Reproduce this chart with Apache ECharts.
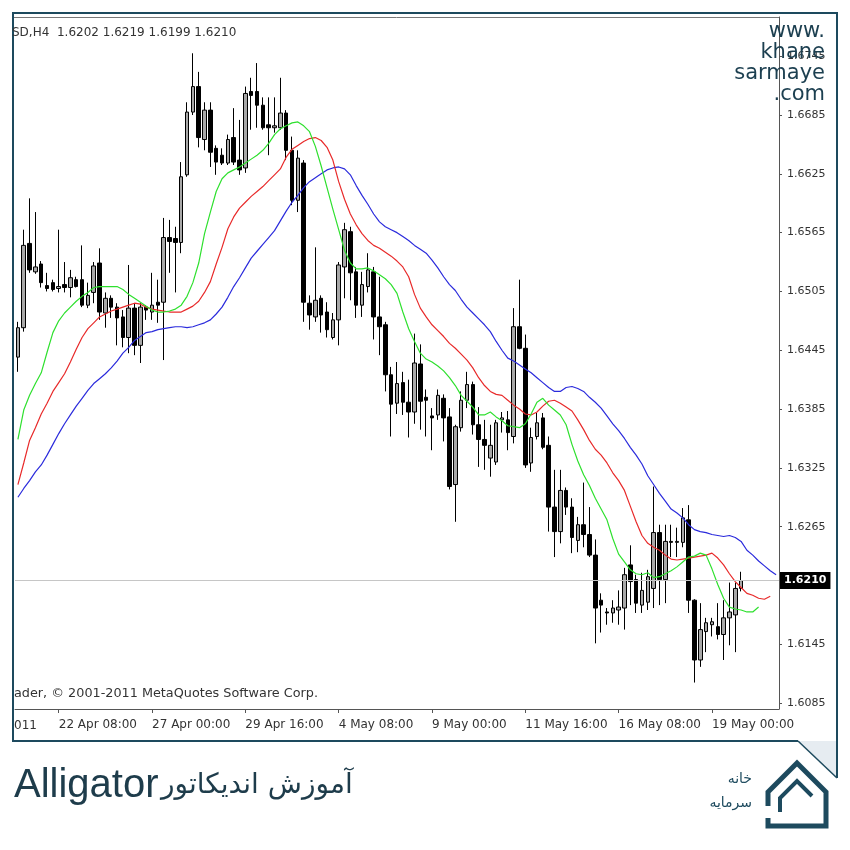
<!DOCTYPE html>
<html><head><meta charset="utf-8">
<script src="https://cdn.jsdelivr.net/npm/echarts/dist/echarts.min.js"></script>
<style>html,body{margin:0;padding:0;background:#fff;}#c{width:850px;height:850px;}</style>
</head><body><div id="c"></div>
<script>
// ---- DATA ----
const startTime = Date.UTC(2011, 3, 21, 4, 0); // first H4 bar
const barCount = 131;
const yTicks = [1.6085, 1.6145, 1.6205, 1.6265, 1.6325, 1.6385, 1.6445, 1.6505, 1.6565, 1.6625, 1.6685, 1.6745];
const yTickLabels = [1.6085, 1.6145, 1.6265, 1.6325, 1.6385, 1.6445, 1.6505, 1.6565, 1.6625, 1.6685, 1.6745];
const opens = [1.6438,1.6468,1.6554,1.6525,1.6533,1.6511,1.6514,1.6508,1.6512,1.6509,1.6517,1.6517,1.6491,1.6504,1.6534,1.6483,1.6498,1.6489,1.6479,1.6458,1.6488,1.6450,1.6489,1.6484,1.6494,1.6494,1.6560,1.6559,1.6555,1.6624,1.6688,1.6714,1.6660,1.6690,1.6651,1.6644,1.6636,1.6662,1.6639,1.6631,1.6709,1.6709,1.6695,1.6675,1.6672,1.6672,1.6687,1.6649,1.6598,1.6636,1.6493,1.6479,1.6498,1.6484,1.6458,1.6476,1.6530,1.6566,1.6525,1.6491,1.6510,1.6525,1.6479,1.6471,1.6420,1.6391,1.6412,1.6392,1.6382,1.6431,1.6397,1.6378,1.6379,1.6396,1.6377,1.6308,1.6366,1.6394,1.6410,1.6369,1.6354,1.6335,1.6331,1.6374,1.6374,1.6357,1.6469,1.6447,1.6330,1.6357,1.6376,1.6348,1.6285,1.6260,1.6302,1.6285,1.6251,1.6267,1.6257,1.6236,1.6190,1.6178,1.6177,1.6180,1.6182,1.6226,1.6211,1.6185,1.6188,1.6202,1.6259,1.6211,1.6250,1.6249,1.6249,1.6272,1.6190,1.6129,1.6158,1.6165,1.6163,1.6155,1.6172,1.6175,1.6202];
const closes = [1.6468,1.6552,1.6527,1.6530,1.6514,1.6508,1.6507,1.6510,1.6509,1.6519,1.6510,1.6491,1.6501,1.6531,1.6484,1.6498,1.6489,1.6478,1.6458,1.6488,1.6450,1.6489,1.6486,1.6491,1.6491,1.6560,1.6556,1.6555,1.6622,1.6688,1.6714,1.6662,1.6690,1.6647,1.6637,1.6636,1.6660,1.6637,1.6629,1.6707,1.6705,1.6695,1.6672,1.6672,1.6674,1.6687,1.6649,1.6598,1.6641,1.6494,1.6481,1.6496,1.6481,1.6466,1.6476,1.6532,1.6568,1.6524,1.6491,1.6512,1.6527,1.6479,1.6469,1.6420,1.6390,1.6411,1.6392,1.6382,1.6432,1.6393,1.6394,1.6376,1.6399,1.6376,1.6306,1.6367,1.6394,1.6410,1.6369,1.6354,1.6348,1.6348,1.6371,1.6376,1.6361,1.6469,1.6447,1.6328,1.6356,1.6371,1.6346,1.6285,1.6260,1.6302,1.6285,1.6254,1.6267,1.6257,1.6236,1.6182,1.6185,1.6177,1.6182,1.6183,1.6216,1.6209,1.6187,1.6200,1.6214,1.6259,1.6211,1.6250,1.6249,1.6250,1.6274,1.6190,1.6129,1.6160,1.6167,1.6168,1.6155,1.6172,1.6178,1.6202,1.6210];
const highs = [1.6474,1.6568,1.6600,1.6586,1.6536,1.6524,1.6517,1.6568,1.6535,1.6527,1.6520,1.6552,1.6514,1.6535,1.6549,1.6504,1.6501,1.6493,1.6486,1.6532,1.6493,1.6493,1.6491,1.6524,1.6517,1.6580,1.6578,1.6571,1.6637,1.6698,1.6748,1.6729,1.6698,1.6698,1.6654,1.6651,1.6665,1.6692,1.6680,1.6714,1.6723,1.6738,1.6703,1.6703,1.6703,1.6723,1.6690,1.6663,1.6649,1.6639,1.6501,1.6550,1.6501,1.6494,1.6483,1.6535,1.6575,1.6571,1.6530,1.6525,1.6544,1.6530,1.6520,1.6474,1.6428,1.6433,1.6423,1.6415,1.6462,1.6451,1.6405,1.6386,1.6405,1.6400,1.6386,1.6369,1.6403,1.6423,1.6413,1.6387,1.6374,1.6369,1.6374,1.6382,1.6383,1.6488,1.6517,1.6461,1.6366,1.6381,1.6381,1.6357,1.6323,1.6323,1.6305,1.6294,1.6275,1.6310,1.6285,1.6252,1.6197,1.6182,1.6190,1.6200,1.6223,1.6246,1.6216,1.6218,1.6221,1.6306,1.6267,1.6267,1.6267,1.6264,1.6284,1.6287,1.6191,1.6187,1.6172,1.6172,1.6187,1.6190,1.6208,1.6208,1.6219];
const lows = [1.6423,1.6464,1.6524,1.6523,1.6509,1.6505,1.6505,1.6504,1.6504,1.6499,1.6509,1.6489,1.6488,1.6493,1.6476,1.6468,1.6478,1.6450,1.6448,1.6442,1.6440,1.6432,1.6476,1.6476,1.6473,1.6435,1.6524,1.6504,1.6544,1.6622,1.6685,1.6652,1.6649,1.6632,1.6624,1.6634,1.6634,1.6634,1.6624,1.6626,1.6670,1.6672,1.6670,1.6644,1.6667,1.6670,1.6639,1.6593,1.6586,1.6474,1.6466,1.6474,1.6463,1.6458,1.6456,1.6450,1.6498,1.6496,1.6478,1.6479,1.6504,1.6456,1.6440,1.6403,1.6357,1.6380,1.6379,1.6356,1.6370,1.6364,1.6357,1.6343,1.6374,1.6352,1.6303,1.6270,1.6362,1.6386,1.6359,1.6326,1.6323,1.6316,1.6328,1.6361,1.6343,1.6350,1.6446,1.6325,1.6321,1.6354,1.6344,1.6260,1.6234,1.6248,1.6277,1.6238,1.6239,1.6244,1.6234,1.6146,1.6157,1.6165,1.6167,1.6165,1.6160,1.6185,1.6177,1.6177,1.6180,1.6182,1.6185,1.6187,1.6234,1.6234,1.6244,1.6177,1.6106,1.6122,1.6137,1.6153,1.6150,1.6129,1.6144,1.6137,1.6199];
const lips = [1.6354,1.6384,1.6399,1.6411,1.6422,1.6443,1.6463,1.6475,1.6483,1.6489,1.6495,1.6500,1.6504,1.6509,1.6510,1.6510,1.6510,1.6510,1.6507,1.6502,1.6498,1.6494,1.6490,1.6486,1.6484,1.6484,1.6485,1.6487,1.6491,1.6500,1.6514,1.6534,1.6564,1.6586,1.6607,1.6620,1.6626,1.6629,1.6632,1.6636,1.6640,1.6644,1.6649,1.6656,1.6665,1.6671,1.6674,1.6677,1.6678,1.6674,1.6668,1.6653,1.6633,1.6611,1.6589,1.6568,1.6547,1.6534,1.6528,1.6528,1.6529,1.6526,1.6522,1.6518,1.6512,1.6503,1.6484,1.6467,1.6454,1.6442,1.6436,1.6433,1.6429,1.6424,1.6417,1.6409,1.6399,1.6393,1.6387,1.6379,1.6379,1.6382,1.6377,1.6373,1.6368,1.6367,1.6366,1.6370,1.6380,1.6392,1.6396,1.6389,1.6384,1.6379,1.6369,1.6349,1.6332,1.6318,1.6307,1.6294,1.6283,1.6272,1.6253,1.6237,1.6229,1.6221,1.6217,1.6216,1.6218,1.6213,1.6214,1.6217,1.6220,1.6224,1.6229,1.6234,1.6235,1.6238,1.6236,1.6222,1.6206,1.6192,1.6183,1.6181,1.6180,1.6178,1.6178,1.6183];
const teeth = [1.6308,1.6330,1.6353,1.6366,1.6380,1.6391,1.6403,1.6412,1.6421,1.6433,1.6446,1.6458,1.6467,1.6473,1.6479,1.6482,1.6485,1.6487,1.6489,1.6491,1.6493,1.6492,1.6489,1.6487,1.6486,1.6485,1.6484,1.6484,1.6484,1.6487,1.6490,1.6495,1.6504,1.6515,1.6533,1.6550,1.6569,1.6581,1.6590,1.6596,1.6602,1.6607,1.6612,1.6618,1.6624,1.6630,1.6642,1.6650,1.6654,1.6658,1.6661,1.6662,1.6659,1.6652,1.6639,1.6617,1.6599,1.6584,1.6573,1.6564,1.6557,1.6552,1.6549,1.6545,1.6541,1.6536,1.6530,1.6520,1.6502,1.6488,1.6479,1.6471,1.6465,1.6459,1.6452,1.6447,1.6441,1.6435,1.6427,1.6417,1.6409,1.6403,1.6400,1.6399,1.6394,1.6389,1.6385,1.6380,1.6379,1.6382,1.6388,1.6393,1.6394,1.6391,1.6387,1.6383,1.6374,1.6364,1.6353,1.6344,1.6338,1.6330,1.6320,1.6312,1.6302,1.6286,1.6270,1.6256,1.6248,1.6244,1.6241,1.6236,1.6232,1.6231,1.6232,1.6233,1.6234,1.6235,1.6236,1.6238,1.6233,1.6226,1.6217,1.6209,1.6203,1.6197,1.6195,1.6192,1.6191,1.6194];
const jaw = [1.6295,1.6304,1.6312,1.6321,1.6328,1.6338,1.6349,1.6360,1.6370,1.6379,1.6388,1.6396,1.6404,1.6411,1.6416,1.6421,1.6427,1.6434,1.6442,1.6448,1.6455,1.6459,1.6463,1.6464,1.6466,1.6467,1.6468,1.6469,1.6469,1.6468,1.6469,1.6471,1.6473,1.6476,1.6482,1.6489,1.6499,1.6510,1.6519,1.6529,1.6539,1.6546,1.6553,1.6560,1.6567,1.6577,1.6587,1.6596,1.6603,1.6611,1.6617,1.6621,1.6625,1.6629,1.6631,1.6632,1.6630,1.6624,1.6613,1.6603,1.6594,1.6584,1.6576,1.6571,1.6568,1.6565,1.6561,1.6557,1.6552,1.6548,1.6544,1.6537,1.6529,1.6520,1.6512,1.6506,1.6497,1.6489,1.6483,1.6477,1.6471,1.6464,1.6454,1.6445,1.6437,1.6434,1.6430,1.6426,1.6422,1.6417,1.6412,1.6407,1.6403,1.6403,1.6407,1.6408,1.6406,1.6403,1.6397,1.6392,1.6386,1.6378,1.6370,1.6363,1.6355,1.6346,1.6338,1.6329,1.6317,1.6308,1.6299,1.6291,1.6283,1.6279,1.6274,1.6267,1.6262,1.6260,1.6259,1.6257,1.6256,1.6255,1.6256,1.6254,1.6250,1.6241,1.6236,1.6230,1.6225,1.6220,1.6216];
const lastPrice = 1.6210;

// H4 bar times (weekends skipped)
const MONTHS = ['Jan','Feb','Mar','Apr','May','Jun','Jul','Aug','Sep','Oct','Nov','Dec'];
const categories = [];
(function(){
  let t = startTime;
  while (categories.length < barCount) {
    const d = new Date(t);
    const wd = d.getUTCDay();
    if (wd !== 0 && wd !== 6) {
      const hh = String(d.getUTCHours()).padStart(2,'0');
      categories.push(d.getUTCDate() + ' ' + MONTHS[d.getUTCMonth()] + ' ' + hh + ':00');
    }
    t += 4 * 3600 * 1000;
  }
})();

const candleData = opens.map((o, i) => [o, closes[i], lows[i], highs[i]]);
const showTick = (i) => i >= 7 && (i - 7) % 16 === 0;

const FRAME = '#1d4a5e';
const TXT = '#333';
const chart = echarts.init(document.getElementById('c'), null, {renderer: 'canvas'});
chart.setOption({
  animation: false,
  backgroundColor: '#ffffff',
  grid: {left: 15, right: 71, top: 17, bottom: 141, show: false},
  xAxis: {
    type: 'category', data: categories, boundaryGap: true,
    axisLine: {show: true, lineStyle: {color: '#555', width: 1}},
    axisTick: {show: true, alignWithLabel: true, interval: showTick, length: 4, lineStyle: {color: '#555'}},
    axisLabel: {show: true, interval: showTick, align: 'left', margin: 10, color: TXT, fontFamily: 'DejaVu Sans', fontSize: 12},
    splitLine: {show: false}
  },
  yAxis: {
    type: 'value', position: 'right', min: 1.6079, max: 1.6785,
    axisLine: {show: true, lineStyle: {color: '#555', width: 1}},
    axisTick: {show: true, length: 3, customValues: yTicks, lineStyle: {color: '#555'}},
    axisLabel: {show: true, customValues: yTickLabels, margin: 8, color: TXT, fontFamily: 'DejaVu Sans', fontSize: 11,
      formatter: v => v.toFixed(4)},
    splitLine: {show: false}
  },
  series: [
    {
      type: 'line', data: [], symbol: 'none', z: 1,
      markLine: {
        silent: true, symbol: ['none','none'], precision: 4,
        data: [{yAxis: lastPrice}],
        lineStyle: {color: '#c6c6c6', width: 1, type: 'solid'},
        label: {show: true, position: 'end', formatter: () => lastPrice.toFixed(4), color: '#fff',
          backgroundColor: '#000', padding: [3,4,3,4], fontFamily: 'DejaVu Sans', fontSize: 11, fontWeight: 'bold',
          distance: 1}
      }
    },
    {
      type: 'candlestick', data: candleData, barWidth: 4,
      itemStyle: {color: '#a8a8a8', color0: '#000000', borderColor: '#000000', borderColor0: '#000000', borderWidth: 1},
      z: 2
    },
    {type: 'line', data: jaw, showSymbol: false, symbol: 'none', lineStyle: {color: '#2b2bdc', width: 1.2}, z: 3},
    {type: 'line', data: teeth, showSymbol: false, symbol: 'none', lineStyle: {color: '#e82a2a', width: 1.2}, z: 3},
    {type: 'line', data: lips, showSymbol: false, symbol: 'none', lineStyle: {color: '#2ee02e', width: 1.2}, z: 3}
  ],
  graphic: [
    // outer frame with folded corner
    {type: 'polyline', shape: {points: [[798,741],[13,741],[13,13],[837,13],[837,778]]}, style: {stroke: FRAME, lineWidth: 2, fill: null}, z: 10},
    {type: 'polygon', shape: {points: [[798,741],[837,741],[837,778]]}, style: {fill: '#e6ecf1', stroke: null}, z: 9},
    {type: 'line', shape: {x1: 798, y1: 741, x2: 837, y2: 778}, style: {stroke: FRAME, lineWidth: 1.5}, z: 10},
    {type: 'line', shape: {x1: 14, y1: 17.5, x2: 779, y2: 17.5}, style: {stroke: '#777', lineWidth: 1}, z: 10},
    // header & copyright
    {type: 'text', x: 12, y: 33, style: {text: 'SD,H4  1.6202 1.6219 1.6199 1.6210', fill: TXT, font: '12px "DejaVu Sans"', verticalAlign: 'middle'}, z: 10},
    {type: 'text', x: 14, y: 694, style: {text: 'ader, \u00A9 2001-2011 MetaQuotes Software Corp.', fill: TXT, font: '12.8px "DejaVu Sans"', verticalAlign: 'middle'}, z: 10},
    {type: 'text', x: 14, y: 726, style: {text: '011', fill: TXT, font: '12px "DejaVu Sans"', verticalAlign: 'middle'}, z: 10},
    // watermark
    {type: 'text', x: 825, y: 21, style: {text: 'www.\nkhane\nsarmaye\n.com', fill: '#1c3f50', font: '21px "DejaVu Sans"', lineHeight: 21, align: 'right', verticalAlign: 'top'}, z: 12},
    // title
    {type: 'text', x: 14, y: 786, style: {text: 'Alligator', fill: '#1e3c4b', font: '40px "Liberation Sans"', verticalAlign: 'middle'}, z: 10},
    {type: 'text', x: 161, y: 786, style: {text: 'آموزش اندیکاتور', fill: '#1e3c4b', font: '28px "DejaVu Sans"', verticalAlign: 'middle'}, z: 10},
    // logo
    {type: 'polyline', shape: {points: [[768,806],[768,792],[797,763],[826,792],[826,826],[768,826],[768,818]]}, style: {stroke: FRAME, lineWidth: 5, fill: null, lineJoin: 'miter'}, z: 10},
    {type: 'polyline', shape: {points: [[780,812],[780,798],[797,781],[812,796]]}, style: {stroke: FRAME, lineWidth: 4, fill: null}, z: 10},
    {type: 'text', x: 752, y: 779, style: {text: 'خانه', fill: FRAME, font: '14px "DejaVu Sans"', align: 'right', verticalAlign: 'middle'}, z: 10},
    {type: 'text', x: 752, y: 803, style: {text: 'سرمایه', fill: FRAME, font: '14px "DejaVu Sans"', align: 'right', verticalAlign: 'middle'}, z: 10}
  ]
});
</script></body></html>
